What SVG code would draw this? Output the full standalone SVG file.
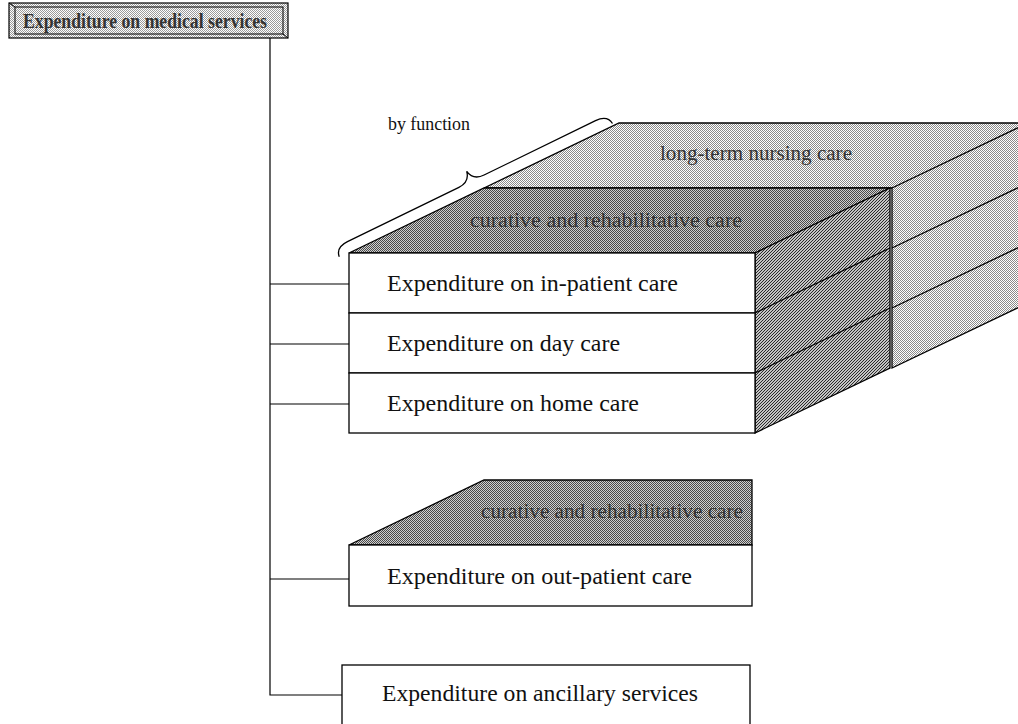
<svg xmlns="http://www.w3.org/2000/svg" width="1018" height="724" viewBox="0 0 1018 724">
  <defs>
    <pattern id="pLight" width="2" height="2" patternUnits="userSpaceOnUse">
      <rect width="2" height="2" fill="#ffffff"/>
      <rect x="0" y="0" width="1" height="1" fill="#8a8a8a"/>
      <rect x="1" y="1" width="1" height="1" fill="#8a8a8a"/>
    </pattern>
    <pattern id="pHead" width="2" height="2" patternUnits="userSpaceOnUse">
      <rect width="2" height="2" fill="#ffffff"/>
      <rect x="0" y="0" width="1" height="1" fill="#9a9a9a"/>
      <rect x="1" y="1" width="1" height="1" fill="#9a9a9a"/>
    </pattern>
    <pattern id="pMid" width="2" height="2" patternUnits="userSpaceOnUse">
      <rect width="2" height="2" fill="#d0d0d0"/>
      <rect x="0" y="0" width="1" height="1" fill="#4a4a4a"/>
      <rect x="1" y="1" width="1" height="1" fill="#4a4a4a"/>
    </pattern>
    <pattern id="pDiag" width="3" height="3" patternUnits="userSpaceOnUse">
      <rect width="3" height="3" fill="#c4c4c4"/>
      <rect x="2" y="0" width="1" height="1" fill="#2a2a2a"/>
      <rect x="1" y="1" width="1" height="1" fill="#2a2a2a"/>
      <rect x="0" y="2" width="1" height="1" fill="#2a2a2a"/>
    </pattern>
    <style>
      .edge { stroke: #000; stroke-width: 1.3; fill: none; }
      .face { stroke: #000; stroke-width: 1.3; }
      .front { fill: #ffffff; stroke: #000; stroke-width: 1.3; }
      .t { font-family: "Liberation Serif", "Times New Roman", serif; fill: #111; }
      .lbl { font-size: 23px; }
      .top { font-size: 20px; fill: #333; }
      .conn { stroke: #000; stroke-width: 1.2; fill: none; }
    </style>
  </defs>

  <!-- connectors -->
  <g id="connectors">
    <path class="conn" d="M270,38 V695 H342"/>
    <line class="conn" x1="270" y1="284" x2="349" y2="284"/>
    <line class="conn" x1="270" y1="344" x2="349" y2="344"/>
    <line class="conn" x1="270" y1="404" x2="349" y2="404"/>
    <line class="conn" x1="270" y1="579" x2="349" y2="579"/>
  </g>

  <!-- header node -->
  <g id="node-header">
    <rect x="9" y="3" width="279" height="35" fill="url(#pHead)" stroke="#000" stroke-width="1.2"/>
    <rect x="15" y="7" width="268" height="27" fill="url(#pHead)" stroke="#000" stroke-width="1"/>
    <line x1="9" y1="3" x2="15" y2="7" stroke="#000" stroke-width="1"/>
    <line x1="288" y1="38" x2="283" y2="34" stroke="#000" stroke-width="1"/>
    <text x="23" y="28" class="t" font-size="21" font-weight="bold" textLength="244" lengthAdjust="spacingAndGlyphs" style="fill:#333">Expenditure on medical services</text>
  </g>

  <!-- brace label -->
  <g id="node-by-function">
    <text x="388" y="130" class="t" font-size="18" textLength="82" lengthAdjust="spacingAndGlyphs">by function</text>
    <path class="edge" stroke-width="1.2" transform="translate(334,246) rotate(-26)" d="M0,12 Q1,2 14,2 L138,2 Q150,2 152,-9 Q154,2 166,2 L290,2 Q303,2 304,12"/>
  </g>

  <!-- long-term nursing care block (behind) -->
  <g id="node-long-term">
    <polygon class="face" points="484,188 619,123 1030,123 895,188" fill="url(#pLight)"/>
    <polygon class="face" points="892,188 1030,122 1030,302 892,368" fill="url(#pLight)"/>
    <line class="edge" x1="892" y1="248" x2="1030" y2="182"/>
    <line class="edge" x1="892" y1="308" x2="1030" y2="242"/>
    <text x="756" y="160" class="t top" text-anchor="middle" textLength="192" lengthAdjust="spacingAndGlyphs">long-term nursing care</text>
  </g>

  <!-- curative block with three rows -->
  <g id="node-curative">
    <polygon class="face" points="349,253 484,188 890,188 755,253" fill="url(#pMid)"/>
    <polygon class="face" points="755,253 890,188 890,368 755,433" fill="url(#pDiag)"/>
    <line class="edge" x1="755" y1="313" x2="890" y2="248"/>
    <line class="edge" x1="755" y1="373" x2="890" y2="308"/>
    <text x="606" y="227" class="t top" text-anchor="middle" textLength="272" lengthAdjust="spacingAndGlyphs">curative and rehabilitative care</text>
  </g>

  <g id="node-inpatient">
    <rect class="front" x="349" y="253" width="406" height="60"/>
    <text x="387" y="291" class="t lbl" textLength="291" lengthAdjust="spacingAndGlyphs">Expenditure on in-patient care</text>
  </g>
  <g id="node-daycare">
    <rect class="front" x="349" y="313" width="406" height="60"/>
    <text x="387" y="351" class="t lbl" textLength="233" lengthAdjust="spacingAndGlyphs">Expenditure on day care</text>
  </g>
  <g id="node-homecare">
    <rect class="front" x="349" y="373" width="406" height="60"/>
    <text x="387" y="411" class="t lbl" textLength="252" lengthAdjust="spacingAndGlyphs">Expenditure on home care</text>
  </g>

  <!-- out-patient block -->
  <g id="node-outpatient">
    <polygon class="face" points="349,545 484,480 752,480 752,545" fill="url(#pMid)"/>
    <text x="612" y="518" class="t top" text-anchor="middle" textLength="262" lengthAdjust="spacingAndGlyphs">curative and rehabilitative care</text>
    <rect class="front" x="349" y="545" width="403" height="61"/>
    <text x="387" y="584" class="t lbl" textLength="305" lengthAdjust="spacingAndGlyphs">Expenditure on out-patient care</text>
  </g>

  <!-- ancillary -->
  <g id="node-ancillary">
    <rect class="front" x="342" y="665" width="408" height="70"/>
    <text x="382" y="701" class="t lbl" textLength="316" lengthAdjust="spacingAndGlyphs">Expenditure on ancillary services</text>
  </g>
</svg>
